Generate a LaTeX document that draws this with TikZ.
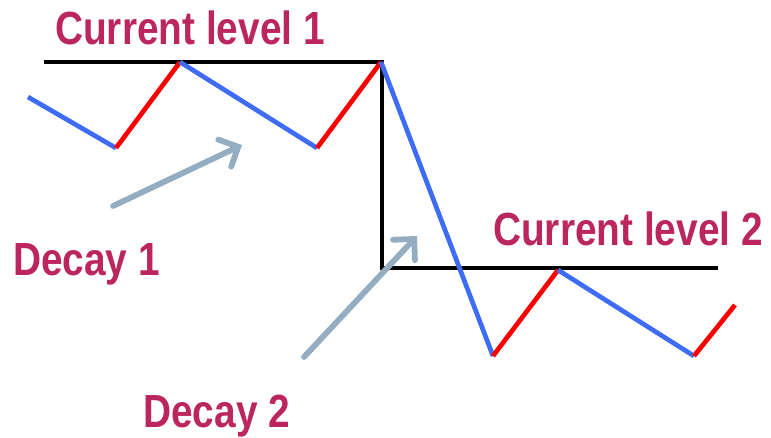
\documentclass[tikz,border=0pt]{standalone}
\usepackage{fontspec}
\newfontfamily\lblfont[FakeStretch=0.835]{Liberation Sans}
\usetikzlibrary{arrows.meta}
\definecolor{lbl}{RGB}{188,38,94}
\definecolor{zblue}{RGB}{62,108,245}
\definecolor{zred}{RGB}{250,0,0}
\definecolor{arr}{RGB}{148,173,192}
\tikzset{
  lvl/.style={draw=black, line width=4.4pt, line join=miter},
  bseg/.style={draw=zblue, line width=4.7pt},
  rseg/.style={draw=zred, line width=4.7pt},
  decayarrow/.style={draw=arr, line width=5.8pt, line cap=round,
    -{Straight Barb[length=15pt,width=30pt,line cap=round]}},
  lbltext/.style={inner sep=0pt, anchor=base west, text=lbl,
    font=\lblfont\bfseries\fontsize{46.5}{46.5}\selectfont}
}
\begin{document}
\begin{tikzpicture}[x=1pt,y=-1pt]
\useasboundingbox (0,0) rectangle (771,437);
% level lines
\coordinate (l1a) at (44,62);
\coordinate (l1b) at (382,62);
\coordinate (l2a) at (382,268);
\coordinate (l2b) at (718,268);
\draw[lvl] (l1a) -- (l1b) -- (l2a) -- (l2b);
% zigzag points
\coordinate (p0) at (28,97);
\coordinate (p1) at (116,148);
\coordinate (p2) at (180,62);
\coordinate (p3) at (317,148);
\coordinate (p4) at (381,62);
\coordinate (p5) at (493,356);
\coordinate (p6) at (558,270);
\coordinate (p7) at (694,356);
\coordinate (p8) at (735,305);
\draw[bseg] (p0) -- (p1);
\draw[rseg] (p1) -- (p2);
\draw[bseg] (p2) -- (p3);
\draw[rseg] (p3) -- (p4);
\draw[bseg] (p4) -- (p5);
\draw[rseg] (p5) -- (p6);
\draw[bseg] (p6) -- (p7);
\draw[rseg] (p7) -- (p8);
% labels
\node[lbltext] (cl1) at (55,44) {Current level 1};
\node[lbltext] (cl2) at (493,245) {Current level 2};
\node[lbltext] (d1) at (13,275) {Decay 1};
\node[lbltext] (d2) at (143,427) {Decay 2};
% arrows
\coordinate (a1s) at (113,206);
\coordinate (a1e) at (242,145);
\coordinate (a2s) at (304,357);
\coordinate (a2e) at (417,236);
\draw[decayarrow] (a1s) -- (a1e);
\draw[decayarrow] (a2s) -- (a2e);
\end{tikzpicture}
\end{document}
